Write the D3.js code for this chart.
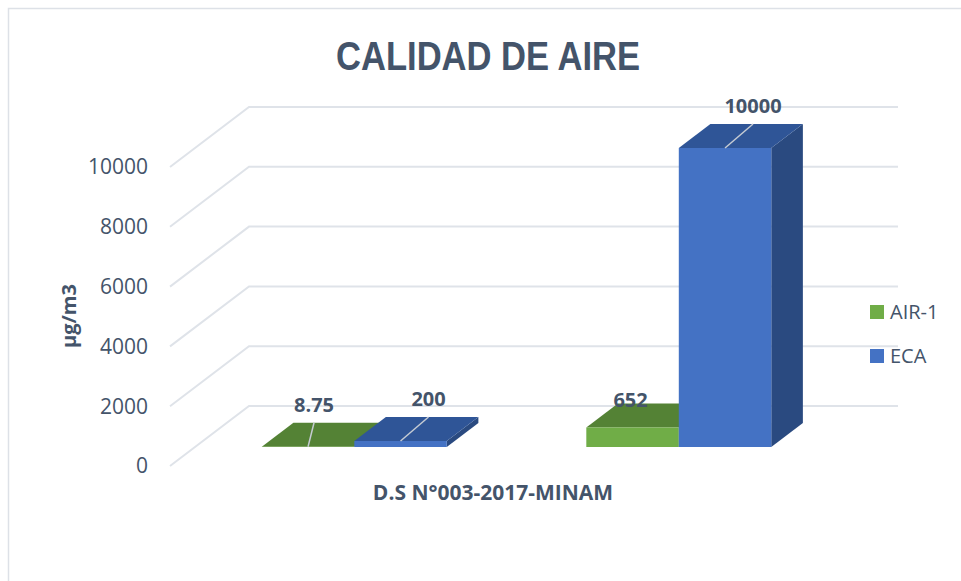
<!DOCTYPE html>
<html>
<head>
<meta charset="utf-8">
<script src="https://cdn.jsdelivr.net/npm/d3@7"></script>
<style>
  html, body { margin: 0; padding: 0; background: #fff; }
  svg { display: block; }
</style>
</head>
<body>
<svg id="chart" width="961" height="581"></svg>
<script>
// ---- data ----
const categories = ["Grupo 1", "Grupo 2"];
const seriesNames = ["AIR-1", "ECA"];
const air1Values = [8.75, 652];
const ecaValues = [200, 10000];
const yTicks = [0, 2000, 4000, 6000, 8000, 10000];
const titleText = "CALIDAD DE AIRE";
const xAxisTitle = "D.S N°003-2017-MINAM";
const yAxisTitle = "µg/m3";

// ---- styles ----
const textColor = "#44546A";
const gridColor = "#dfe3e9";
const seriesStyle = {
  "AIR-1": { front: "#70AD47", top: "#548235", side: "#3f6428", labelDx: 6 },
  "ECA":   { front: "#4472C4", top: "#2F5597", side: "#2A4A80", labelDx: 28 }
};
const bodyFont = "'Open Sans', 'DejaVu Sans', sans-serif";

const svg = d3.select("#chart");

// chart border
svg.append("rect")
  .attr("x", 8.5).attr("y", 8.5).attr("width", 970).attr("height", 600)
  .attr("fill", "#fff").attr("stroke", "#dde1e7").attr("stroke-width", 1.5);

// ---- scales & projection ----
const y = d3.scaleLinear().domain([0, 10000]).range([466, 167]);
const gridX = [170, 819];
const x0 = d3.scaleBand().domain(categories).range([167, 816]).paddingInner(0.43).paddingOuter(0.215);
const x1 = d3.scaleBand().domain(seriesNames).range([0, x0.bandwidth()]).padding(0);
const depthDx = 79, depthDy = -60;
const proj = (x, v, z) => [x + z * depthDx, y(v) + z * depthDy];
const zFront = 0.317, zBack = 0.717;

// ---- gridlines (side wall diagonals + back wall) ----
const grid = svg.append("g");
yTicks.forEach(t => {
  const a = proj(gridX[0], t, 0), b = proj(gridX[0], t, 1), c = proj(gridX[1], t, 1);
  grid.append("polyline")
    .attr("points", [a, b, c].map(p => p.join(",")).join(" "))
    .attr("fill", "none").attr("stroke", gridColor).attr("stroke-width", 2);
});

// tick labels
svg.append("g").selectAll("text").data(yTicks).join("text")
  .attr("x", 148).attr("y", d => y(d))
  .attr("dy", "0.35em")
  .attr("text-anchor", "end")
  .attr("font-family", bodyFont).attr("font-size", 21)
  .attr("fill", textColor)
  .text(d => d);

// ---- bars ----
const bars = [];
categories.forEach((c, i) => {
  bars.push({ cat: c, series: "AIR-1", value: air1Values[i] });
  bars.push({ cat: c, series: "ECA", value: ecaValues[i] });
});

const poly = pts => pts.map(p => p.join(",")).join(" ");
const barG = svg.append("g");
bars.forEach(d => {
  const st = seriesStyle[d.series];
  const xl = x0(d.cat) + x1(d.series), xr = xl + x1.bandwidth();
  const fbl = proj(xl, 0, zFront), fbr = proj(xr, 0, zFront);
  const ftl = proj(xl, d.value, zFront), ftr = proj(xr, d.value, zFront);
  const bbr = proj(xr, 0, zBack);
  const btl = proj(xl, d.value, zBack), btr = proj(xr, d.value, zBack);
  barG.append("polygon").attr("points", poly([fbr, ftr, btr, bbr])).attr("fill", st.side);
  barG.append("polygon").attr("points", poly([ftl, ftr, btr, btl])).attr("fill", st.top);
  barG.append("polygon").attr("points", poly([fbl, fbr, ftr, ftl])).attr("fill", st.front);
});

// ---- data labels with leader lines ----
// label placement tweak (Excel moves the label of the short bar next to the tall one)
const labelNudge = { 2: { dx: -8, dy: 15, leader: false } };
const labelG = svg.append("g");
bars.forEach((d, i) => {
  const st = seriesStyle[d.series];
  const nudge = labelNudge[i] || { dx: 0, dy: 0, leader: true };
  const cx = x0(d.cat) + x1(d.series) + x1.bandwidth() / 2;
  const base = proj(cx, d.value, zFront);
  const tip = [base[0] + st.labelDx, base[1] - 24];
  if (nudge.leader) {
    labelG.append("line")
      .attr("x1", base[0]).attr("y1", base[1])
      .attr("x2", tip[0]).attr("y2", tip[1])
      .attr("stroke", "#c5cbd3").attr("stroke-width", 1.5);
  }
  labelG.append("text")
    .attr("x", tip[0] + nudge.dx).attr("y", tip[1] - 18 + nudge.dy)
    .attr("dy", "0.35em")
    .attr("text-anchor", "middle")
    .attr("font-family", bodyFont).attr("font-weight", "bold").attr("font-size", 20)
    .attr("fill", textColor)
    .text(d.value);
});

// ---- titles ----
svg.append("text")
  .attr("x", 488).attr("y", 70)
  .attr("text-anchor", "middle")
  .attr("font-family", "'Liberation Sans Narrow', 'Liberation Sans', sans-serif")
  .attr("font-weight", "bold").attr("font-size", 40)
  .attr("textLength", 304).attr("lengthAdjust", "spacingAndGlyphs")
  .attr("fill", textColor)
  .text(titleText);

svg.append("text")
  .attr("x", 493).attr("y", 493)
  .attr("dy", "0.35em")
  .attr("text-anchor", "middle")
  .attr("font-family", bodyFont).attr("font-weight", "bold").attr("font-size", 21)
  .attr("fill", textColor)
  .text(xAxisTitle);

svg.append("text")
  .attr("transform", "translate(69,316) rotate(-90)")
  .attr("dy", "0.35em")
  .attr("text-anchor", "middle")
  .attr("font-family", bodyFont).attr("font-weight", "bold").attr("font-size", 20)
  .attr("fill", textColor)
  .text(yAxisTitle);

// ---- legend ----
const legend = svg.append("g").selectAll("g").data(seriesNames).join("g")
  .attr("transform", (d, i) => `translate(870,${305 + i * 44})`);
legend.append("rect").attr("width", 14).attr("height", 14)
  .attr("fill", d => seriesStyle[d].front);
legend.append("text").attr("x", 20).attr("y", 7).attr("dy", "0.35em")
  .attr("font-family", bodyFont).attr("font-size", 20)
  .attr("fill", textColor)
  .text(d => d);
</script>
</body>
</html>
